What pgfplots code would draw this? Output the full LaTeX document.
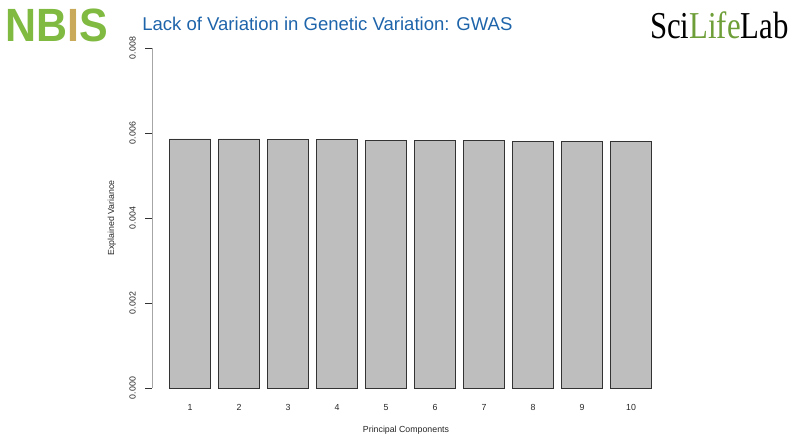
\documentclass[border=0pt]{standalone}
\usepackage{fontspec}
\setmainfont{Liberation Sans}
\newfontfamily\seriffont{Liberation Serif}
\usepackage{pgfplots}
\pgfplotsset{compat=1.18}
\definecolor{titleblue}{RGB}{30,100,170}
\definecolor{nbisgreen}{RGB}{128,186,65}
\definecolor{helix}{RGB}{200,170,90}
\definecolor{barfill}{RGB}{190,190,190}
\begin{document}
\begin{tikzpicture}[x=0.75pt,y=0.75pt]
\useasboundingbox (0,0) rectangle (794,447);
% header
\node[anchor=west, inner sep=0, text=nbisgreen, font=\fontsize{35}{35}\selectfont\bfseries, xscale=0.92] at (5,422) {NB\textcolor{helix}{I}S};
\node[anchor=west, inner sep=0, text=titleblue, font=\fontsize{13.9}{14}\selectfont] at (142,423) {Lack of Variation in Genetic Variation: GWAS};
\node[anchor=west, inner sep=0, font=\fontsize{28.5}{28}\selectfont\seriffont, xscale=0.81] at (650,422) {Sci\textcolor{nbisgreen!85!black}{Life}Lab};
\begin{axis}[
  at={(114pt,44.25pt)}, anchor=south west,
  scale only axis, width=381pt, height=255pt,
  xmin=0.2245, xmax=10.59, ymin=0, ymax=0.008,
  axis y line=left, axis x line=bottom,
  x axis line style={draw=none},
  y axis line style={-, draw=gray!70},
  xtick={1,...,10}, xtick style={draw=none},
  ytick={0,0.002,0.004,0.006,0.008},
  ytick style={draw=black!80},
  tick align=outside, major tick length=5pt,
  scaled y ticks=false,
  yticklabel style={rotate=90, anchor=south, inner sep=7pt, /pgf/number format/fixed, /pgf/number format/fixed zerofill, /pgf/number format/precision=3},
  xticklabel style={yshift=-4pt},
  /pgf/number format/assume math mode=true,
  tick label style={font=\fontsize{6.6}{7}\selectfont, text=black!85},
  label style={font=\fontsize{6.6}{7}\selectfont, text=black!85},
  xlabel={Principal Components},
  xlabel style={at={(axis description cs:0.5,0)}, anchor=center, yshift=-31.5pt},
  ylabel={Explained Variance},
  ylabel style={at={(axis description cs:-0.079,0.5)}, anchor=center},
  ybar, bar width=0.837, bar shift=0pt,
  clip=false,
]
\addplot[fill=barfill, draw=black!80, line width=0.6pt] coordinates {
(1,0.00586) (2,0.00586) (3,0.00585) (4,0.00584) (5,0.00583)
(6,0.00582) (7,0.00582) (8,0.00581) (9,0.00581) (10,0.00580)};
\end{axis}
\end{tikzpicture}
\end{document}
